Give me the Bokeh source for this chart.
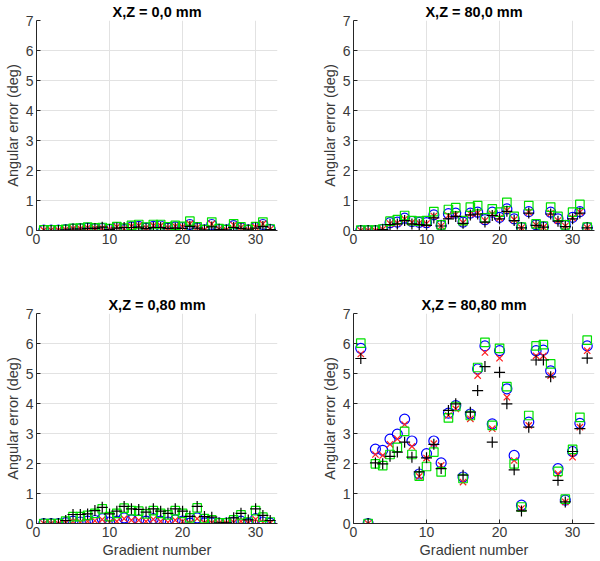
from bokeh.plotting import figure
from bokeh.layouts import column, row
from bokeh.models import FixedTicker
from bokeh.embed import file_html
from bokeh.resources import INLINE

gradient = list(range(1, 33))
x_ticks = [0, 10, 20, 30]
y_ticks = [0, 1, 2, 3, 4, 5, 6, 7]
titles = ["X,Z = 0,0 mm", "X,Z = 80,0 mm", "X,Z = 0,80 mm", "X,Z = 80,80 mm"]

# panel X,Z = 0,0 mm
p00_blue = [0.01,0.01,0.01,0.03,0.05,0.06,0.08,0.06,0.07,0.04,0.10,0.03,0.12,0.14,0.08,0.14,0.15,0.08,0.12,0.10,0.20,0.09,0.02,0.20,0.04,0.02,0.16,0.09,0.02,0.10,0.20,0.04]
p00_red = [0.01,0.01,0.01,0.03,0.06,0.06,0.09,0.07,0.08,0.04,0.12,0.06,0.14,0.16,0.09,0.16,0.16,0.09,0.14,0.12,0.22,0.10,0.02,0.22,0.05,0.02,0.18,0.10,0.02,0.11,0.22,0.04]
p00_green = [0.02,0.02,0.02,0.04,0.07,0.08,0.11,0.09,0.10,0.06,0.13,0.08,0.17,0.20,0.11,0.20,0.20,0.12,0.17,0.14,0.31,0.12,0.03,0.28,0.06,0.03,0.22,0.12,0.03,0.13,0.28,0.05]
p00_black = [0.0,0.0,0.0,0.02,0.05,0.05,0.07,0.07,0.11,0.03,0.08,0.10,0.10,0.11,0.06,0.10,0.10,0.07,0.08,0.07,0.14,0.08,0.02,0.12,0.04,0.02,0.10,0.07,0.02,0.08,0.13,0.03]

# panel X,Z = 80,0 mm
p80_0_blue = [0,0,0,0.04,0.26,0.28,0.41,0.30,0.27,0.26,0.52,0.17,0.56,0.58,0.28,0.58,0.61,0.36,0.61,0.44,0.72,0.39,0.10,0.63,0.19,0.12,0.61,0.39,0.17,0.44,0.63,0.10]
p80_0_red = [0,0,0,0.04,0.23,0.25,0.38,0.27,0.25,0.23,0.48,0.15,0.50,0.53,0.26,0.55,0.58,0.33,0.55,0.42,0.67,0.36,0.09,0.61,0.18,0.11,0.58,0.33,0.15,0.42,0.61,0.09]
p80_0_green = [0.01,0.01,0.01,0.05,0.31,0.36,0.50,0.33,0.31,0.33,0.63,0.19,0.70,0.76,0.33,0.78,0.83,0.42,0.72,0.61,0.94,0.47,0.11,0.83,0.22,0.15,0.78,0.47,0.19,0.61,0.87,0.11]
p80_0_black = [0,0,0,0.03,0.20,0.22,0.33,0.22,0.20,0.17,0.42,0.15,0.39,0.47,0.24,0.52,0.55,0.28,0.50,0.39,0.64,0.33,0.09,0.58,0.17,0.11,0.55,0.31,0.13,0.39,0.58,0.09]

# panel X,Z = 0,80 mm
p0_80_blue = [0,0,0,0.03,0.08,0.05,0.08,0.10,0.16,0.05,0.08,0.19,0.12,0.12,0.08,0.16,0.08,0.05,0.12,0.08,0.01,0.19,0.02,0.02,0.01,0.01,0.05,0.08,0.01,0.16,0.05,0.01]
p0_80_red = [0,0,0,0.02,0.07,0.05,0.07,0.09,0.13,0.04,0.07,0.16,0.11,0.11,0.07,0.14,0.07,0.04,0.11,0.07,0.01,0.16,0.02,0.02,0.01,0.01,0.04,0.07,0.01,0.14,0.04,0.01]
p0_80_green = [0,0,0,0.08,0.23,0.23,0.27,0.34,0.49,0.23,0.34,0.51,0.43,0.41,0.32,0.43,0.34,0.29,0.43,0.34,0.19,0.52,0.16,0.12,0.02,0.02,0.12,0.29,0.05,0.43,0.21,0.05]
p0_80_black = [0,0,0,0.10,0.30,0.30,0.32,0.43,0.54,0.32,0.41,0.57,0.49,0.47,0.38,0.49,0.41,0.34,0.49,0.41,0.24,0.57,0.23,0.21,0.02,0.02,0.19,0.34,0.12,0.49,0.27,0.10]

# panel X,Z = 80,80 mm
p80_80_blue = [5.84,0,2.48,2.44,2.81,2.98,3.48,2.75,1.65,2.33,2.75,2.02,3.68,3.93,1.55,3.65,5.15,5.92,3.32,5.76,4.49,2.27,0.61,3.38,5.76,5.78,5.09,1.83,0.78,2.40,3.34,5.92]
p80_80_red = [5.65,0,2.30,2.27,2.64,2.82,3.30,2.57,1.57,2.18,2.66,1.94,3.60,3.82,1.38,3.49,4.93,5.70,3.16,5.51,4.21,2.10,0.50,3.27,5.59,5.59,4.93,1.66,0.72,2.21,3.21,5.76]
p80_80_green = [6.01,0,1.99,1.93,2.30,2.54,3.07,2.30,1.58,1.90,2.38,1.72,3.52,3.90,1.50,3.60,5.20,6.04,3.27,5.84,4.56,1.99,0.55,3.60,5.92,5.96,5.32,1.74,0.81,2.47,3.54,6.11]
p80_80_black = [5.50,0,2.02,1.99,2.24,2.38,2.71,2.21,1.72,2.19,2.64,1.83,3.77,3.99,1.61,3.71,4.43,5.23,2.71,5.04,3.99,1.79,0.42,3.21,5.45,5.45,4.89,1.44,0.72,2.40,3.16,5.51]

FONT = "Liberation Sans"
TXT = "#262626"


def make_panel(title, blue, red, green, black, width, height, bl, br, bt, bb, xlabel):
    p = figure(width=width, height=height, output_backend="svg", toolbar_location=None,
               x_range=(0, 33), y_range=(0, 7), min_border_left=bl, min_border_right=br,
               min_border_top=bt, min_border_bottom=bb, title=title)
    p.title.align = "center"
    p.title.text_font = FONT
    p.title.text_font_size = "14.5px"
    p.title.text_font_style = "bold"
    p.title.text_color = "#000000"
    p.title.standoff = 2
    p.outline_line_color = None
    p.background_fill_color = "white"
    p.border_fill_color = "white"
    for ax in (p.xaxis[0], p.yaxis[0]):
        ax.axis_line_color = TXT
        ax.axis_line_width = 1
        ax.major_tick_in = 4
        ax.major_tick_out = 0
        ax.major_tick_line_color = TXT
        ax.minor_tick_line_color = None
        ax.major_label_text_font = FONT
        ax.major_label_text_font_size = "14px"
        ax.major_label_text_color = "#3a3a3a"
        ax.major_label_standoff = 3
        ax.axis_label_text_font = FONT
        ax.axis_label_text_font_size = "14.5px"
        ax.axis_label_text_font_style = "normal"
        ax.axis_label_text_color = "#3a3a3a"
        ax.axis_label_standoff = 2
    p.xaxis.ticker = FixedTicker(ticks=x_ticks)
    p.yaxis.ticker = FixedTicker(ticks=y_ticks)
    p.yaxis.axis_label = "Angular error (deg)"
    if xlabel:
        p.xaxis.axis_label = "Gradient number"
    p.xgrid.ticker = FixedTicker(ticks=x_ticks)
    p.ygrid.ticker = FixedTicker(ticks=y_ticks)
    p.grid.grid_line_color = "#e2e2e2"
    p.grid.grid_line_width = 1

    p.scatter(gradient, blue, marker="circle", size=10, fill_color=None, line_color="#0000ff", line_width=1.2)
    p.scatter(gradient, red, marker="x", size=9, line_color="#ff2020", line_width=1.2)
    p.scatter(gradient, green, marker="square", size=8.5, fill_color=None, line_color="#00e000", line_width=1.2)
    p.scatter(gradient, black, marker="cross", size=11, line_color="#000000", line_width=1.2)
    return p


p1 = make_panel(titles[0], p00_blue, p00_red, p00_green, p00_black, 299, 280, 36, 22, 20, 50, False)
p2 = make_panel(titles[1], p80_0_blue, p80_0_red, p80_0_green, p80_0_black, 299, 280, 54, 4, 20, 50, False)
p3 = make_panel(titles[2], p0_80_blue, p0_80_red, p0_80_green, p0_80_black, 299, 280, 36, 22, 33, 37, True)
p4 = make_panel(titles[3], p80_80_blue, p80_80_red, p80_80_green, p80_80_black, 299, 280, 54, 4, 33, 37, True)

layout = column(row(p1, p2), row(p3, p4))
open("out.html", "w").write(file_html(layout, INLINE))
